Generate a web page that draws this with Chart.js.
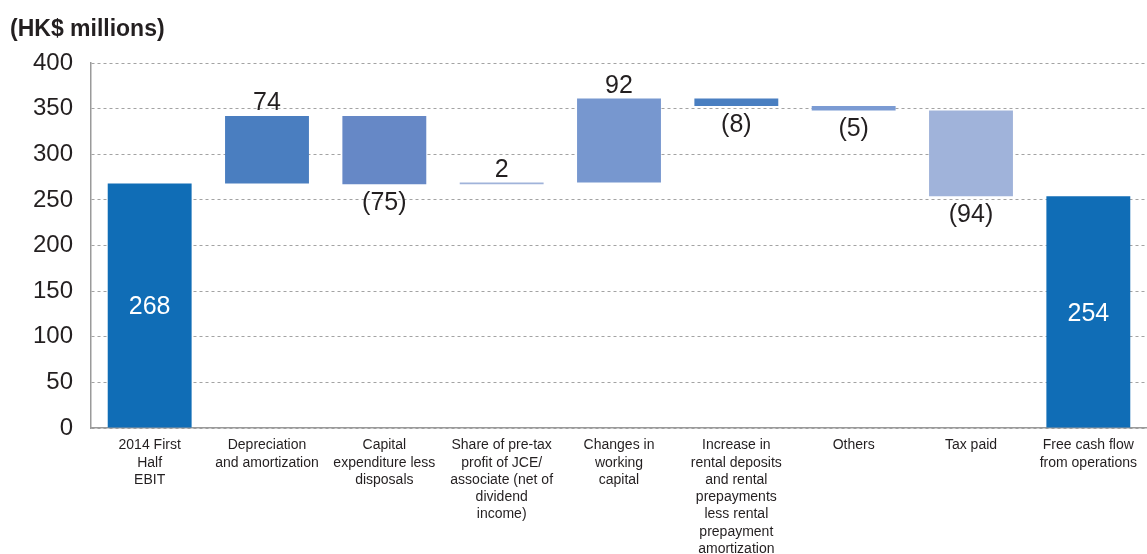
<!DOCTYPE html>
<html>
<head>
<meta charset="utf-8">
<title>Free cash flow from operations</title>
<script src="https://cdn.jsdelivr.net/npm/chart.js@4/dist/chart.umd.min.js"></script>
<style>
  html, body { margin: 0; padding: 0; background: #fff; }
  #wrap { position: relative; width: 1147px; height: 554px; }
</style>
</head>
<body>
<div id="wrap"><canvas id="chart"></canvas></div>
<script>
// categories (multi-line axis labels)
const categories = [
  ['2014 First', 'Half', 'EBIT'],
  ['Depreciation', 'and amortization'],
  ['Capital', 'expenditure less', 'disposals'],
  ['Share of pre-tax', 'profit of JCE/', 'associate (net of', 'dividend', 'income)'],
  ['Changes in', 'working', 'capital'],
  ['Increase in', 'rental deposits', 'and rental', 'prepayments', 'less rental', 'prepayment', 'amortization'],
  ['Others'],
  ['Tax paid'],
  ['Free cash flow', 'from operations']
];

// HK$ millions: opening EBIT, movements, closing free cash flow
const openingValue = 268;
const movements = [74, -75, 2, 92, -8, -5, -94];
const closingValue = 254;

const barColors = ['#106db6', '#4a7ec0', '#6688c6', '#a0b3da', '#7797cf', '#4a7fc1', '#7b9bd3', '#a0b3da', '#106db6'];
const yTicks = [0, 50, 100, 150, 200, 250, 300, 350, 400];

// floating ranges for the waterfall
const ranges = [[0, openingValue]];
let running = openingValue;
movements.forEach(m => {
  ranges.push([running, running + m]);
  running += m;
});
ranges.push([0, closingValue]);
const labelValues = [openingValue, ...movements, closingValue];

const fmt = v => v < 0 ? '(' + Math.abs(v) + ')' : String(v);
const FONT = '"Liberation Sans", Arial, sans-serif';

const valueLabels = {
  id: 'valueLabels',
  afterDatasetsDraw(chart) {
    const meta = chart.getDatasetMeta(0);
    const ctx = chart.ctx;
    ctx.save();
    ctx.font = '25px ' + FONT;
    ctx.textAlign = 'center';
    meta.data.forEach((bar, i) => {
      const v = labelValues[i];
      const top = Math.min(bar.y, bar.base);
      const bottom = Math.max(bar.y, bar.base);
      if (i === 0 || i === meta.data.length - 1) {
        ctx.fillStyle = '#ffffff';
        ctx.textBaseline = 'middle';
        ctx.fillText(fmt(v), bar.x, (top + bottom) / 2 + 2);
      } else if (v >= 0) {
        ctx.fillStyle = '#231f20';
        ctx.textBaseline = 'alphabetic';
        ctx.fillText(fmt(v), bar.x, top - 6);
      } else {
        ctx.fillStyle = '#231f20';
        ctx.textBaseline = 'middle';
        ctx.fillText(fmt(v), bar.x, bottom + 19);
      }
    });
    // unit caption
    ctx.font = 'bold 23px ' + FONT;
    ctx.textAlign = 'left';
    ctx.textBaseline = 'middle';
    ctx.fillStyle = '#231f20';
    ctx.fillText('(HK$ millions)', 10, 30);
    ctx.restore();
  }
};

new Chart(document.getElementById('chart'), {
  type: 'bar',
  data: {
    labels: categories,
    datasets: [{
      data: ranges,
      backgroundColor: barColors,
      borderWidth: 0,
      borderSkipped: false,
      categoryPercentage: 1,
      barPercentage: 0.715
    }]
  },
  options: {
    responsive: true,
    maintainAspectRatio: false,
    animation: false,
    layout: { padding: { top: 63, right: 0, bottom: 0, left: 0 } },
    plugins: {
      legend: { display: false },
      tooltip: { enabled: false }
    },
    scales: {
      x: {
        grid: { display: false, drawTicks: false },
        border: { display: true, color: '#9a9a9a', width: 1.5 },
        ticks: {
          autoSkip: false,
          maxRotation: 0,
          padding: 9,
          color: '#231f20',
          font: { family: FONT, size: 14, lineHeight: 1.23 }
        },
        afterFit(scale) { scale.height = 126; }
      },
      y: {
        min: 0,
        max: 400,
        afterBuildTicks(scale) { scale.ticks = yTicks.map(v => ({ value: v })); },
        grid: {
          color: '#a3a3a3',
          lineWidth: 1,
          drawTicks: false
        },
        border: { display: true, color: '#9a9a9a', width: 1.5, dash: [3, 3] },
        ticks: {
          padding: 18,
          color: '#231f20',
          font: { family: FONT, size: 24 }
        },
        afterFit(scale) { scale.width = 91; }
      }
    }
  },
  plugins: [valueLabels]
});
</script>
</body>
</html>
